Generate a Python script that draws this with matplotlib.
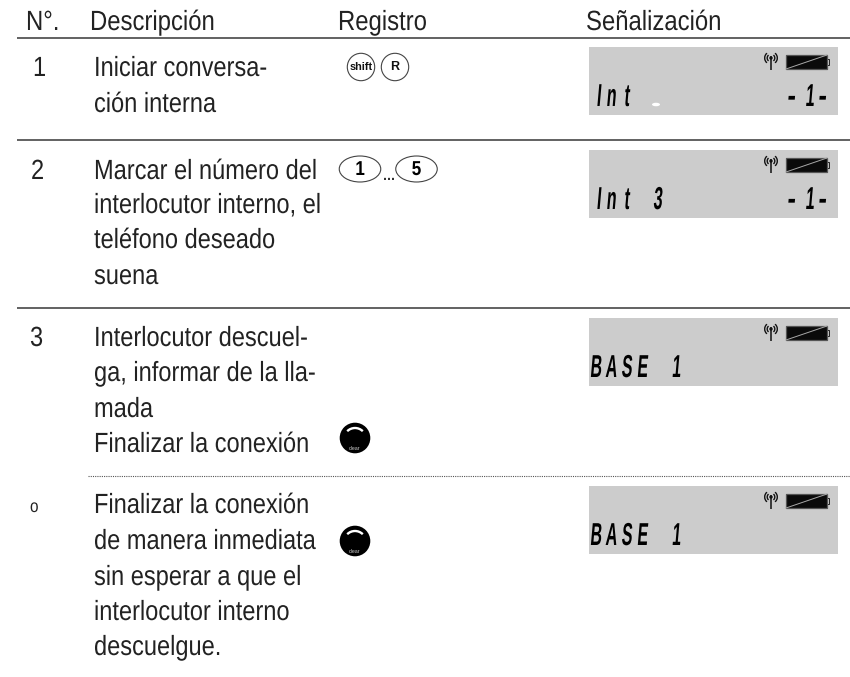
import matplotlib
matplotlib.use('Agg')
import matplotlib.pyplot as plt
from matplotlib.patches import Rectangle, Circle, Ellipse, Arc
from matplotlib.patheffects import AbstractPathEffect
from matplotlib.transforms import Affine2D

headers = ['N°.', 'Descripción', 'Registro', 'Señalización']
numbers = ['1', '2', '3', 'o']
descriptions = [
    ['Iniciar conversa-', 'ción interna'],
    ['Marcar el número del', 'interlocutor interno, el', 'teléfono deseado', 'suena'],
    ['Interlocutor descuel-', 'ga, informar de la lla-', 'mada', 'Finalizar la conexión'],
    ['Finalizar la conexión', 'de manera inmediata', 'sin esperar a que el', 'interlocutor interno', 'descuelgue.'],
]
lcd_left = ['Int', 'Int 3', 'BASE 1', 'BASE 1']
lcd_right = ['-1-', '-1-', '', '']

# layout, in pixels of the 850x677 picture
header_x = [26, 90, 338, 586]
number_x = [33, 31, 30, 30]
text_x = 94
baselines = [[76, 112], [179, 213, 248, 284], [346, 381, 417, 452], [513, 549, 585, 620, 655]]
number_base = [76, 179, 346, 512]
rule_y = [38, 140, 308]
panel_top = [47, 150, 318, 486]

FONT = 'Liberation Sans'
INK = '#222222'


class Squeeze(AbstractPathEffect):
    # draws a text narrower or taller, it stays a real text object
    def __init__(self, sx, sy=1, skew=0, center=False):
        self.sx = sx
        self.sy = sy
        self.skew = skew
        self.center = center

    def draw_path(self, renderer, gc, tpath, affine, rgbFace=None):
        box = tpath.get_extents()
        cx = (box.x0 + box.x1) / 2 if self.center else 0
        squeeze = Affine2D().translate(-cx, 0).scale(self.sx, self.sy).skew_deg(self.skew, 0).translate(cx, 0)
        renderer.draw_path(gc, tpath, squeeze + affine, rgbFace)


def lcd_string(ax, s, x0, base):
    for i, ch in enumerate(s):
        if ch == ' ':
            continue
        x = x0 + i * 15.5
        if ch in '1I':
            x += 3
        sx = 1.3 if ch == '-' else 0.82
        ax.text(x, base, ch, family=FONT, weight='bold', fontsize=14, color='#000000',
                ha='center', va='baseline', path_effects=[Squeeze(sx, 1.63, 5, True)])


def status_icons(ax, top):
    # antenna
    ax.plot([771, 771], [top + 9, top + 23], color='#111111', lw=1.1, solid_capstyle='butt')
    ax.add_patch(Circle((771, top + 11), 1.7, fc='#111111', ec='none'))
    for r in [3.8, 6.3]:
        ax.add_patch(Arc((771, top + 11), 2 * r, 2 * r, theta1=-50, theta2=50, ec='#111111', lw=1.0))
        ax.add_patch(Arc((771, top + 11), 2 * r, 2 * r, theta1=130, theta2=230, ec='#111111', lw=1.0))
    # battery
    ax.add_patch(Rectangle((827, top + 12), 2.5, 6, fc='#cccccc', ec='#222222', lw=0.7))
    ax.add_patch(Rectangle((786, top + 8), 41, 14, fc='#0a0a0a', ec='#555555', lw=0.9))
    ax.plot([786, 827], [top + 22, top + 8], color='#a8a8a8', lw=0.7)


def key_round(ax, x, y, label, size):
    ax.add_patch(Circle((x, y), 13.7, fc='white', ec='#444444', lw=0.8))
    ax.text(x, y + 0.3, label, family=FONT, weight='bold', fontsize=size, color='#111111',
            ha='center', va='center')


def key_oval(ax, x, y, label):
    ax.add_patch(Ellipse((x, y), 41.5, 26, fc='white', ec='#444444', lw=0.8))
    ax.text(x, y + 0.5, label, family=FONT, weight='bold', fontsize=14.5, color='#000000',
            ha='center', va='center', path_effects=[Squeeze(0.85, center=True)])


def key_hangup(ax, x, y):
    ax.add_patch(Circle((x, y), 15.3, fc='#000000', ec='none'))
    # y axis runs downwards, so the top of the arc is around 270 degrees
    ax.add_patch(Arc((x, y + 1), 22, 22, theta1=225, theta2=315, ec='white', lw=1.7))
    ax.text(x, y + 10.5, 'clear', family=FONT, fontsize=3.8, color='#cccccc', ha='center', va='center')


fig = plt.figure(figsize=(8.5, 6.77), dpi=100)
ax = fig.add_axes([0, 0, 1, 1])
ax.set_xlim(0, 850)
ax.set_ylim(677, 0)
ax.axis('off')

for x, label in zip(header_x, headers):
    ax.text(x, 30, label, family=FONT, fontsize=17.2, color=INK, va='baseline',
            path_effects=[Squeeze(1, 1.163)])

for y in rule_y:
    ax.plot([17, 850], [y, y], color='#555555', lw=1.3, solid_capstyle='butt')
ax.plot([88, 850], [476, 476], color='#555555', lw=0.8, ls=(0, (1, 1)))

for i in range(len(numbers)):
    size = 11 if numbers[i] == 'o' else 17
    ax.text(number_x[i], number_base[i], numbers[i], family=FONT, fontsize=size, color=INK, va='baseline',
            path_effects=[Squeeze(1, 1.176)])
    for y, line in zip(baselines[i], descriptions[i]):
        ax.text(text_x, y, line, family=FONT, fontsize=17, color=INK, va='baseline',
                path_effects=[Squeeze(1, 1.176)])

    top = panel_top[i]
    ax.add_patch(Rectangle((589, top), 249, 68, fc='#cccccc', ec='none'))
    status_icons(ax, top)
    lcd_string(ax, lcd_left[i], 595.5, top + 59)
    lcd_string(ax, lcd_right[i], 791, top + 59)

# cursor blob of the first display
ax.add_patch(Ellipse((656, 104.5), 8, 3.5, fc='white', ec='none'))

key_round(ax, 361, 67, 'shift', 7.8)
key_round(ax, 395, 67, 'R', 9)
key_oval(ax, 360, 169, '1')
key_oval(ax, 416.5, 169, '5')
ax.text(389, 180, '...', family=FONT, weight='bold', fontsize=10, color='#333333', ha='center', va='baseline')
key_hangup(ax, 355, 438)
key_hangup(ax, 355, 541)

fig.savefig('out.png', dpi=100)
